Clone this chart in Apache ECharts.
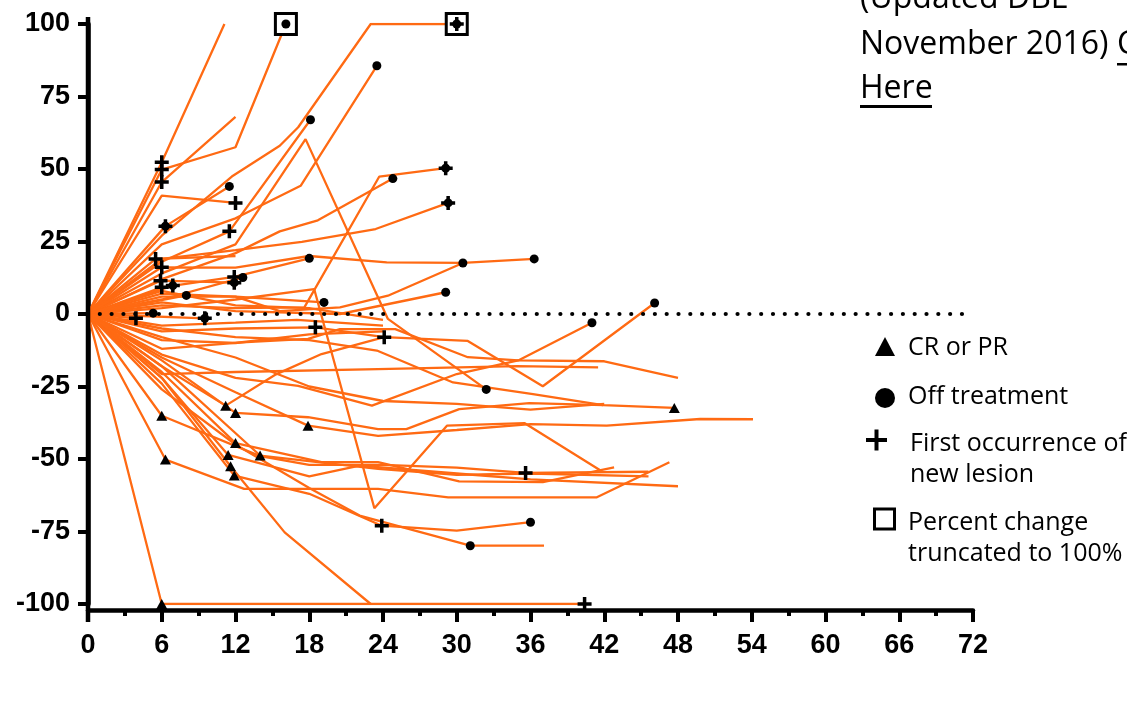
<!DOCTYPE html>
<html>
<head>
<meta charset="utf-8">
<script src="https://cdn.jsdelivr.net/npm/echarts@6/dist/echarts.min.js"></script>
<style>
html,body{margin:0;padding:0;background:#fff;}
#chart{width:1127px;height:701px;}
</style>
</head>
<body>
<div id="chart"></div>
<script>
// ---- axis ticks ----
const xTicks = [0, 6, 12, 18, 24, 30, 36, 42, 48, 54, 60, 66, 72];
const yTicks = [-100, -75, -50, -25, 0, 25, 50, 75, 100];

// ---- per-patient percent change from baseline: [week, % change] ----
const p01 = [[0,0],[6,52.3],[11.1,100]];
const p02 = [[0,0],[6,49.8],[12,57.5],[16.1,100]];
const p03 = [[0,0],[6,45.5],[12,68]];
const p04 = [[0,0],[6,40.8],[12,38.3]];
const p05 = [[0,0],[6.3,30.3],[11.5,44]];
const p06 = [[0,0],[6,27],[11.7,47.4],[15.6,58],[17.1,64.4],[23,100],[30,100]];
const p07 = [[0,0],[6,18],[11.5,28.5],[18.1,67]];
const p08 = [[0,0],[6,14],[12,24],[17.7,60.3],[24.4,-1.7],[32.4,-26]];
const p09 = [[0,0],[6,24],[12,33],[17.3,44.2],[23.5,85.6]];
const p10 = [[0,0],[6,12],[12,21],[15.6,28.5],[18.7,32.3],[24.8,46.7]];
const p11 = [[0,0],[5.5,19],[12,20]];
const p12 = [[0,0],[6,19],[12,22],[17.4,24.9],[23.4,29.3],[29.3,38.3]];
const p13 = [[0,0],[6,3],[12,2],[17.6,2.3],[23.7,47.4],[29.1,50.3]];
const p14 = [[0,0],[6,9.2],[11.9,12.8],[18,19.2]];
const p15 = [[0,0],[5.9,11.5],[11.9,10.8]];
const p16 = [[0,0],[6,16.1],[12,16],[18,20],[24.3,17.8],[30.5,17.6],[36.3,19]];
const p17 = [[0,0],[6.9,9.8]];
const p18 = [[0,0],[6,7],[12,6],[15.6,1],[20.5,2.3],[24.4,6.3],[30.5,17.6]];
const p19 = [[0,0],[6,4],[12,1],[20.5,0],[29.1,7.5]];
const p20 = [[0,0],[6,-18],[11.2,-31.6],[15.2,-21],[19,-13.8],[24.1,-8],[30.9,-9.3],[37,-24.9],[46.1,3.8]];
const p21 = [[0,0],[6,-14],[12,-22],[17.1,-24.8],[23.1,-31.6],[30,-20.7],[35,-16],[41,-3]];
const p22 = [[0,0],[6,-5],[12,-8],[18,-9],[23.5,-12.6],[29.7,-23.6],[36.2,-27.6],[41.9,-31.4],[47.7,-32.4]];
const p23 = [[0,0],[6,-20.7],[12,-20],[23.6,-19],[34.9,-18],[41.5,-18.4]];
const p24 = [[0,0],[6,-12],[12.5,-9.8],[17.9,-8.6],[20.5,-5.2],[25,-5.2],[30.9,-14.9],[35,-16],[42,-16.3],[48,-22]];
const p25 = [[0,0],[6,2],[12,5],[18.4,8.6],[23.3,-67],[29.2,-38.5],[35.5,-37.6],[41.7,-54]];
const p26 = [[0,0],[3.9,-1.5]];
const p27 = [[0,0],[5.3,0.3]];
const p28 = [[0,0],[8,6.4]];
const p29 = [[0,0],[9.5,-1.5]];
const p30 = [[0,0],[6,5],[12.6,12.6]];
const p31 = [[0,0],[6,-6],[12,-5],[18.5,-4.6],[24.1,-8]];
const p32 = [[0,0],[6,6],[12,6],[19.2,4]];
const p33 = [[0,0],[6,-100],[23,-100],[40.4,-100]];
const p34 = [[0,0],[6,-22],[11.6,-52.5],[16,-75.3],[23,-100]];
const p35 = [[0,0],[6,-35.1],[14,-49],[18,-52],[24,-52],[30,-53],[35.6,-54.8],[45.6,-54.4]];
const p36 = [[0,0],[6.3,-50.2],[12.7,-60.3],[23.6,-60.3],[29.3,-63.2],[41.4,-63.2],[47.3,-51.1]];
const p37 = [[0,0],[6,-16],[12,-34.1],[17.9,-35.6],[23.6,-39.7],[25.9,-39.7],[30.2,-32.8],[35.9,-30.7],[41.9,-31.4]];
const p38 = [[0,0],[6,-15],[12,-27],[17.9,-38.5],[23.6,-42],[30,-40],[36,-38],[42.2,-38.5],[49.8,-36.2],[54.1,-36.3]];
const p39 = [[0,0],[6,-20],[12,-44.5],[19,-51.1],[23.6,-51.1],[30.2,-57.7],[37,-58],[42.8,-52.9]];
const p40 = [[0,0],[6,-22],[11.4,-48.6],[18,-56],[22.1,-52.3],[30,-55],[36,-57],[48,-59.4]];
const p41 = [[0,0],[6,-18],[14,-48.8],[23.6,-53.4],[30,-55.5],[36,-55],[45.6,-56]];
const p42 = [[0,0],[6,-24],[11.9,-55.7],[18,-62],[23.9,-73],[30,-74.7],[36,-71.8]];
const p43 = [[0,0],[6,-26],[12,-45],[18,-60],[22.1,-69.5],[31.1,-79.9],[37.1,-79.9]];
const p44 = [[0,0],[6,-8],[12,-15],[18,-25],[24,-30],[30,-31],[36,-33],[42,-31]];
const p45 = [[0,0],[6,-4],[12,-3],[17,-2],[24,-4]];
const p46 = [[0,0],[6,-9],[12,-10],[18,-7],[24,-6]];
const p47 = [[0,0],[6,8],[12,3],[18,2],[24,-2]];

// ---- event markers: [week, % change] ----
const crOrPr = [[6,-35.1],[6.3,-50.2],[11.2,-31.6],[12,-34.1],[17.9,-38.5],[12,-44.5],[11.4,-48.6],[14,-48.8],[11.6,-52.5],[11.9,-55.7],[6,-100],[47.7,-32.4]];
const offTreatment = [[16.1,100],[30,100],[23.5,85.6],[18.1,67],[11.5,44],[24.8,46.7],[29.1,50.3],[29.3,38.3],[6.3,30.3],[18,19.2],[30.5,17.6],[36.3,19],[29.1,7.5],[19.2,4],[46.1,3.8],[41,-3],[32.4,-26],[36,-71.8],[31.1,-79.9],[8,6.4],[5.3,0.3],[12.6,12.6],[6.9,9.8],[9.5,-1.5],[11.9,10.8]];
const newLesion = [[6,52.3],[6,49.8],[6,45.5],[6.3,30.3],[5.5,19],[6,16.1],[5.9,11.5],[6,9.2],[6.9,9.8],[3.9,-1.5],[9.5,-1.5],[11.5,28.5],[12,38.3],[11.9,12.8],[11.9,10.8],[18.5,-4.6],[24.1,-8],[29.1,50.3],[29.3,38.3],[30,100],[35.6,-54.8],[23.9,-73],[40.4,-100]];
const truncated = [[16.1,100],[30,100]];

const legendLabels = ['CR or PR', 'Off treatment', 'First occurrence of\nnew lesion', 'Percent change\ntruncated to 100%'];

const patients = [p01,p02,p03,p04,p05,p06,p07,p08,p09,p10,p11,p12,p13,p14,p15,p16,p17,p18,p19,p20,p21,p22,p23,p24,p25,p26,p27,p28,p29,p30,p31,p32,p33,p34,p35,p36,p37,p38,p39,p40,p41,p42,p43,p44,p45,p46,p47];

const ORANGE = '#FF6A13';
const PLUS = 'path://M-2,-8H2V-2H8V2H2V8H-2V2H-8V-2H-2Z';
const axisFont = {fontFamily:'Liberation Sans', fontWeight:'bold', fontSize:27, color:'#000'};

const series = patients.map((d, i) => ({
  type: 'line', data: d, showSymbol: false, symbol: 'none', silent: true,
  lineStyle: {color: ORANGE, width: 2.3}, z: 2, animation: false
}));
series[0].markLine = {
  silent: true, symbol: 'none', animation: false, z: 3,
  label: {show: false},
  lineStyle: {color: '#000', width: 4.2, type: [0.01, 11.8], cap: 'round'},
  data: [[{coord: [0, 0]}, {coord: [71.5, 0]}]]
};
series.push({type:'scatter', data: truncated, symbol:'rect', symbolSize:21, z:4, animation:false,
  itemStyle:{color:'#fff', borderColor:'#000', borderWidth:3, opacity:1}});
series.push({type:'scatter', data: crOrPr, symbol:'triangle', symbolSize:[11,10], z:5, animation:false,
  itemStyle:{color:'#000', opacity:1}});
series.push({type:'scatter', data: offTreatment, symbol:'circle', symbolSize:9, z:5, animation:false,
  itemStyle:{color:'#000', opacity:1}});
series.push({type:'scatter', data: newLesion, symbol: PLUS, symbolSize:14, z:6, animation:false,
  itemStyle:{color:'#000', opacity:1}});

const legendFont = {fontFamily:'Open Sans', fontSize:25, fill:'#000'};
const topFont = {fontFamily:'Open Sans', fontSize:32, fill:'#000'};

const option = {
  backgroundColor: '#fff',
  animation: false,
  grid: {left: 88, right: 154, top: 24, bottom: 97, containLabel: false},
  xAxis: {
    type: 'value', min: xTicks[0], max: xTicks[xTicks.length-1], interval: 6, offset: 6,
    splitLine: {show: false},
    axisLine: {show: true, onZero: false, lineStyle: {color: '#000', width: 4.5}},
    axisTick: {show: true, length: 12, lineStyle: {color: '#000', width: 4}},
    minorTick: {show: true, splitNumber: 2, length: 6, lineStyle: {color: '#000', width: 4}},
    axisLabel: Object.assign({margin: 22}, axisFont)
  },
  yAxis: {
    type: 'value', min: yTicks[0], max: yTicks[yTicks.length-1], interval: 25,
    splitLine: {show: false},
    axisLine: {show: true, onZero: false, lineStyle: {color: '#000', width: 4.5}},
    axisTick: {show: true, length: 10, lineStyle: {color: '#000', width: 4}},
    axisLabel: Object.assign({margin: 18}, axisFont)
  },
  graphic: [
    // y-axis line extension down to the offset x-axis
    {type:'rect', shape:{x:85.75, y:17, width:4.5, height:605}, style:{fill:'#000'}, z:10},
    // legend symbols
    {type:'polygon', shape:{points:[[885,337],[895,356],[875,356]]}, style:{fill:'#000'}},
    {type:'circle', shape:{cx:885, cy:398, r:10}, style:{fill:'#000'}},
    {type:'rect', shape:{x:866, y:438, width:21, height:4}, style:{fill:'#000'}},
    {type:'rect', shape:{x:874.5, y:429.5, width:4, height:21}, style:{fill:'#000'}},
    {type:'rect', shape:{x:874.5, y:509, width:20, height:20}, style:{fill:'#fff', stroke:'#000', lineWidth:3}},
    // legend texts
    {type:'text', left:908, top:335, style:Object.assign({text: legendLabels[0]}, legendFont)},
    {type:'text', left:908, top:384, style:Object.assign({text: legendLabels[1]}, legendFont)},
    {type:'text', left:910, top:428, style:Object.assign({text: legendLabels[2], lineHeight:31}, legendFont)},
    {type:'text', left:908, top:507, style:Object.assign({text: legendLabels[3], lineHeight:31}, legendFont)},
    // top-right note
    {type:'text', left:860, top:-17, style:Object.assign({text:'(Updated DBL-'}, topFont)},
    {type:'text', left:860, top:29, style:Object.assign({text:'November 2016)'}, topFont)},
    {type:'text', left:1117, top:29, style:Object.assign({text:'C'}, topFont)},
    {type:'rect', shape:{x:1117, y:63, width:12, height:2.5}, style:{fill:'#000'}},
    {type:'text', left:860, top:73, style:Object.assign({text:'Here'}, topFont)},
    {type:'rect', shape:{x:860, y:105, width:72, height:3}, style:{fill:'#000'}}
  ],
  series: series
};

const chart = echarts.init(document.getElementById('chart'), null, {renderer: 'canvas'});
chart.setOption(option);
</script>
</body>
</html>
